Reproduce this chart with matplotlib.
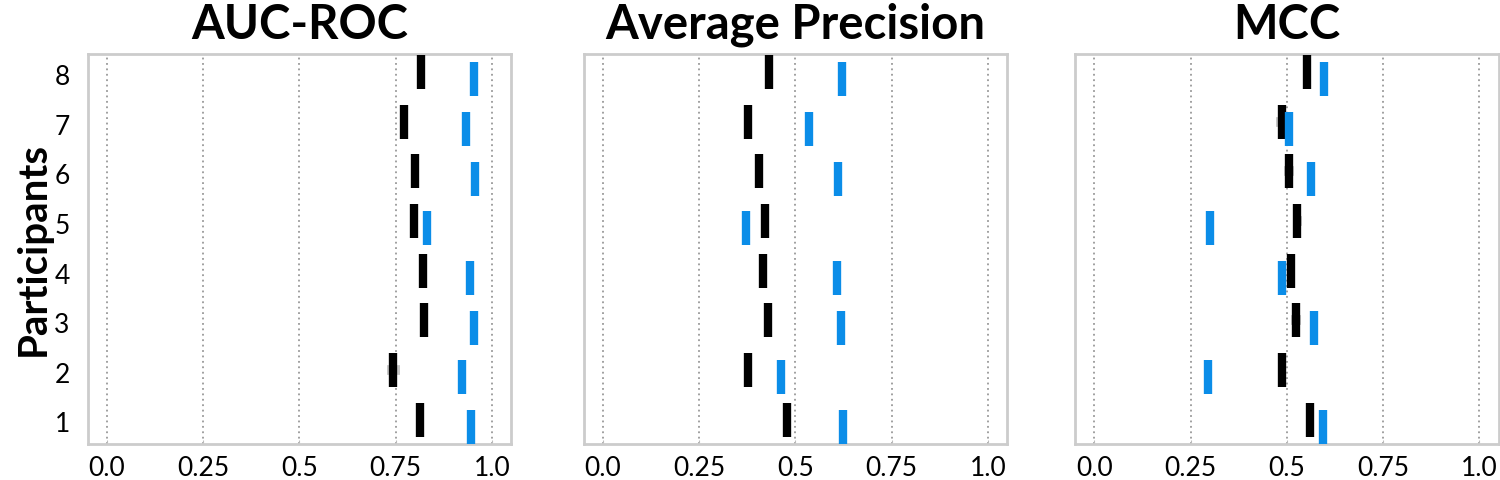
import numpy as np
import matplotlib.pyplot as plt

plt.rcParams["font.family"] = ["Lato", "DejaVu Sans"]

participants = [1, 2, 3, 4, 5, 6, 7, 8]
metrics = ["AUC-ROC", "Average Precision", "MCC"]

# black = baseline, blue = model (participants 1..8)
auc_black = [0.814, 0.744, 0.823, 0.821, 0.797, 0.799, 0.772, 0.816]
auc_blue = [0.946, 0.922, 0.953, 0.944, 0.831, 0.957, 0.932, 0.954]
auc_err = [0.006, 0.016, 0.006, 0.005, 0.006, 0.006, 0.006, 0.005]

ap_black = [0.479, 0.377, 0.430, 0.415, 0.420, 0.405, 0.376, 0.432]
ap_blue = [0.623, 0.463, 0.619, 0.609, 0.372, 0.612, 0.536, 0.622]
ap_err = [0.005, 0.005, 0.006, 0.005, 0.006, 0.010, 0.005, 0.005]

mcc_black = [0.559, 0.488, 0.524, 0.511, 0.527, 0.506, 0.488, 0.551]
mcc_blue = [0.594, 0.295, 0.571, 0.487, 0.300, 0.563, 0.505, 0.597]
mcc_err = [0.005, 0.005, 0.013, 0.006, 0.011, 0.013, 0.017, 0.005]

data = [
    (auc_black, auc_blue, auc_err),
    (ap_black, ap_blue, ap_err),
    (mcc_black, mcc_blue, mcc_err),
]

BLUE = "#0b8de8"
SPINE = "#cccccc"

fig = plt.figure(figsize=(15, 4.8), dpi=100)
lefts = [87.7, 583.6, 1075.2]
w = 423.5 / 1500
bottom = 1 - 444 / 480
h = (444 - 54) / 480

y = np.array(participants, dtype=float)
for i, (name, (blk, blu, err)) in enumerate(zip(metrics, data)):
    ax = fig.add_axes([lefts[i] / 1500, bottom, w, h])
    ax.errorbar(blk, y + 0.06, xerr=err, fmt="none", ecolor="#c8c8c8",
                elinewidth=7, capsize=0, zorder=2)
    ax.plot(blk, y + 0.06, ls="none", marker="|", ms=24, mew=6,
            color="black", zorder=3)
    ax.plot(blu, y - 0.09, ls="none", marker="|", ms=24, mew=6,
            color=BLUE, zorder=3)

    ax.set_xlim(-0.05, 1.05)
    ax.set_ylim(0.567, 8.42)
    ax.set_xticks([0, 0.25, 0.5, 0.75, 1.0])
    ax.set_xticklabels(["0.0", "0.25", "0.5", "0.75", "1.0"])
    ax.set_yticks(participants)
    ax.grid(axis="x", color="#999999", ls=(0, (1, 2)), lw=1.3)
    ax.set_axisbelow(True)
    for s in ax.spines.values():
        s.set_color(SPINE)
        s.set_linewidth(2)
    ax.tick_params(axis="x", labelsize=19, length=3, color="#bbbbbb",
                   direction="in", pad=9)
    ax.tick_params(axis="y", labelsize=19, length=0, pad=13)
    if i == 0:
        ax.set_ylabel("Participants", fontsize=29, fontweight="bold", labelpad=2)
    else:
        ax.set_yticklabels([])
    ax.set_title(name, fontsize=34, fontweight="bold", pad=11)

plt.savefig("out.png", dpi=100)
